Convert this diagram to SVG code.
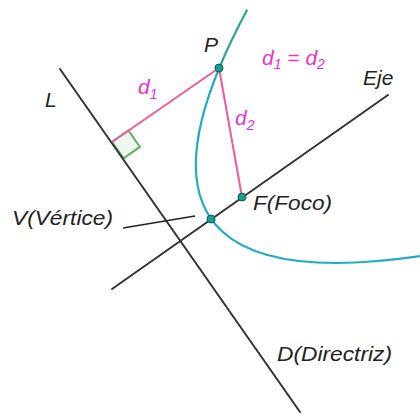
<svg xmlns="http://www.w3.org/2000/svg" width="420" height="414" viewBox="0 0 420 414">
<style>
.ln{stroke:#333;stroke-width:2;fill:none;stroke-linecap:round}
.pk{stroke:#ef5a9c;stroke-width:2;fill:none}
.par{fill:none;stroke-width:2.2}
.lab{font-family:"Liberation Sans",Arial,sans-serif;font-style:italic;fill:#222;font-size:21px}
.mg{font-family:"Liberation Sans",Arial,sans-serif;font-style:italic;fill:#e633c8;font-size:21px}
.sub{font-size:14px}
.dot{fill:#1a9e94;stroke:#0c5e58;stroke-width:1}
</style>
<rect width="420" height="414" fill="#fff"/>
<g id="connectors">
<polygon id="rightangle" points="112,142 128.4,130.5 139.9,146.9 123.5,158.4" fill="#eaf4ea" fill-opacity="0.8" stroke="#5fae6a" stroke-width="2"/>
<line id="directriz" class="ln" x1="60" y1="69" x2="300" y2="412"/>
<line id="eje" class="ln" x1="112" y1="289" x2="388" y2="95"/>
<line id="leader" stroke="#222" stroke-width="1.5" x1="123" y1="228" x2="195" y2="216"/>
<line id="d1" class="pk" x1="219" y1="68" x2="112" y2="142"/>
<line id="d2" class="pk" x1="219" y1="68" x2="242" y2="197"/>
</g>
<g id="parabola" transform="translate(211,218.7) rotate(-34.98)">
<path class="par" stroke="#2aa68e" d="M149.4,-150.4 Q118.1,-134.65 93.4,-118.9"/>
<path class="par" stroke="#22aac6" d="M93.4,-118.9 Q-119.4,16.55 152.6,152"/>
</g>
<g id="P"><circle class="dot" cx="219" cy="68" r="4"/><text class="lab" x="204" y="52">P</text></g>
<g id="V"><circle class="dot" cx="211" cy="219" r="4"/><text class="lab" x="12" y="225" textLength="101" lengthAdjust="spacingAndGlyphs">V(Vértice)</text></g>
<g id="F"><circle class="dot" cx="242" cy="197" r="4"/><text class="lab" x="253" y="210" textLength="79" lengthAdjust="spacingAndGlyphs">F(Foco)</text></g>
<g id="L"><text class="lab" x="45" y="107">L</text></g>
<g id="Eje"><text class="lab" x="363" y="85">Eje</text></g>
<g id="D"><text class="lab" x="277" y="361" textLength="115" lengthAdjust="spacingAndGlyphs">D(Directriz)</text></g>
<g id="labels">
<text class="mg" x="138" y="94">d<tspan class="sub" dy="5">1</tspan></text>
<text class="mg" x="235" y="125">d<tspan class="sub" dy="5">2</tspan></text>
<text class="mg" x="262" y="65">d<tspan class="sub" dy="4">1</tspan><tspan dy="-4"> = d</tspan><tspan class="sub" dy="4">2</tspan></text>
</g>
</svg>
